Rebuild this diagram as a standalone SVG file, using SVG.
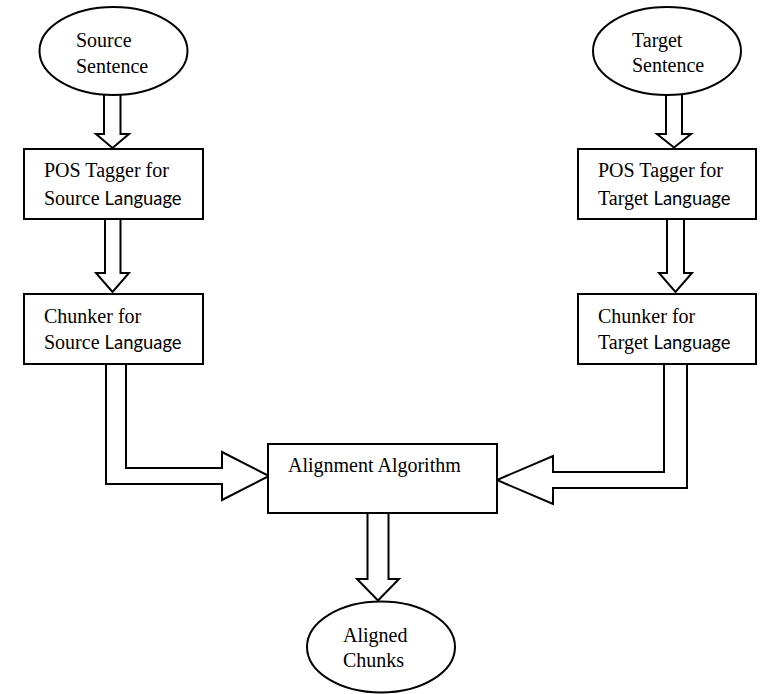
<svg xmlns="http://www.w3.org/2000/svg" width="762" height="694" viewBox="0 0 762 694">
<style>
.sh{fill:#fff;stroke:#000;stroke-width:2}
.ar{fill:#fff;stroke:#000;stroke-width:2;stroke-linejoin:miter}
.t{font-family:"Liberation Serif","Times New Roman",serif;font-size:20px;fill:#000}
.s{font-family:Lato,"Open Sans",sans-serif;font-size:20px}
</style>
<rect width="762" height="694" fill="#fff"/>
<g id="connectors">
<path class="ar" d="M104,93 V134 H96 L112.5,148 L129,134 H120.5 V93"/>
<path class="ar" d="M105,219 V273 H96 L112.5,292 L129,273 H120.5 V219"/>
<path class="ar" d="M666,93 V134 H657 L674,147.5 L691,134 H682 V93"/>
<path class="ar" d="M667,219 V273 H659 L675.5,292 L692,273 H684 V219"/>
<path class="ar" d="M126,364 V468 H222 V452 L269,476 L222,500 V484 H106 V364"/>
<path class="ar" d="M664,364 V472 H553 V456 L497,480 L553,504 V488 H687 V364"/>
<path class="ar" d="M367.5,513 V579 H357 L378,600.5 L399,579 H388.5 V513"/>
</g>
<g id="source-sentence">
<ellipse class="sh" cx="113.5" cy="51" rx="74" ry="44"/>
<text class="t" x="76" y="47">Source</text>
<text class="t" x="76" y="73">Sentence</text>
</g>
<g id="target-sentence">
<ellipse class="sh" cx="667" cy="51" rx="74" ry="44"/>
<text class="t" x="632" y="47">Target</text>
<text class="t" x="632" y="72">Sentence</text>
</g>
<g id="pos-source">
<rect class="sh" x="24" y="149" width="179" height="70"/>
<text class="t" x="44" y="177">POS Tagger for</text>
<text class="t" x="44" y="205">Source <tspan class="s" textLength="77" lengthAdjust="spacingAndGlyphs">Language</tspan></text>
</g>
<g id="pos-target">
<rect class="sh" x="578" y="149" width="178" height="70"/>
<text class="t" x="598" y="177">POS Tagger for</text>
<text class="t" x="598" y="205">Target <tspan class="s" textLength="77" lengthAdjust="spacingAndGlyphs">Language</tspan></text>
</g>
<g id="chunker-source">
<rect class="sh" x="24" y="294" width="179" height="70"/>
<text class="t" x="44" y="323">Chunker for</text>
<text class="t" x="44" y="349">Source <tspan class="s" textLength="77" lengthAdjust="spacingAndGlyphs">Language</tspan></text>
</g>
<g id="chunker-target">
<rect class="sh" x="578" y="294" width="178" height="70"/>
<text class="t" x="598" y="323">Chunker for</text>
<text class="t" x="598" y="349">Target <tspan class="s" textLength="77" lengthAdjust="spacingAndGlyphs">Language</tspan></text>
</g>
<g id="alignment-algorithm">
<rect class="sh" x="268" y="444" width="229" height="69"/>
<text class="t" x="288" y="472">Alignment Algorithm</text>
</g>
<g id="aligned-chunks">
<ellipse class="sh" cx="381" cy="647" rx="74" ry="45.5"/>
<text class="t" x="343" y="642">Aligned</text>
<text class="t" x="343" y="667">Chunks</text>
</g>
</svg>
